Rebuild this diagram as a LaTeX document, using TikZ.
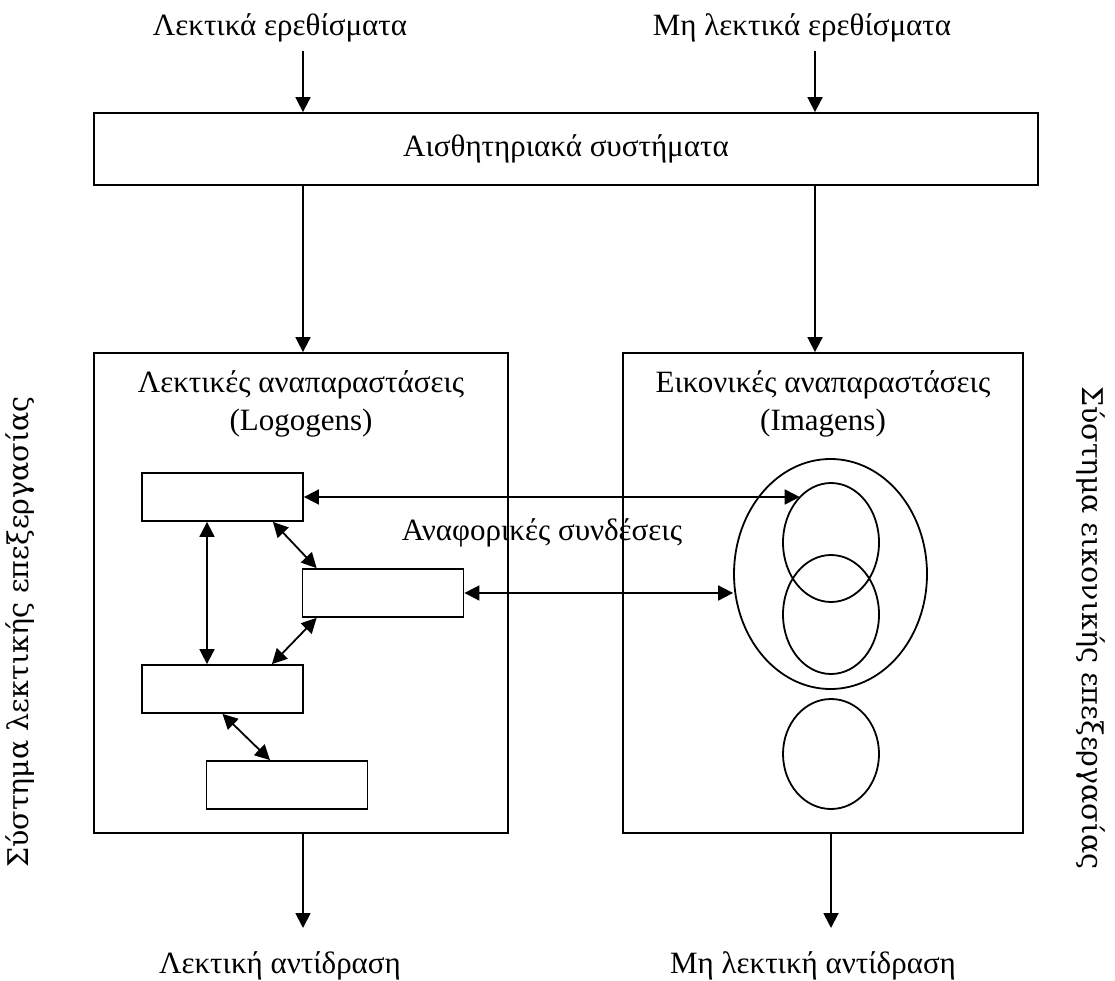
\documentclass[tikz,border=0pt]{standalone}
\usepackage{fontspec}
\setmainfont{Liberation Serif}
\newfontfamily\sidefont{DejaVu Serif}
\usetikzlibrary{arrows.meta,shapes.geometric}

\tikzset{
  lbl/.style={font=\fontsize{31}{37}\selectfont, inner sep=0pt},
  sidelbl/.style={font=\sidefont\fontsize{28.5}{34}\selectfont, inner sep=0pt},
  frame/.style={draw, line width=1.8pt, inner sep=0pt},
  slot/.style={frame, minimum width=161pt, minimum height=48pt},
  blob/.style={ellipse, draw, line width=1.8pt, inner sep=0pt},
  arr/.style={line width=1.8pt, -{Triangle[length=15pt,width=15pt]}},
  dbl/.style={line width=1.8pt, {Triangle[length=15pt,width=15pt]}-{Triangle[length=15pt,width=15pt]}},
}

\begin{document}
\begin{tikzpicture}[x=1pt,y=-1pt]
\useasboundingbox (0,0) rectangle (1115,981);

% vertical guides for the stimulus / response arrows
\coordinate (cL) at (303,0);
\coordinate (cR) at (815,0);
\coordinate (cR2) at (831,0);

% stimuli
\node[lbl, anchor=base] (sv) at (280,36) {Λεκτικά ερεθίσματα};
\node[lbl, anchor=base] (sn) at (802,36) {Μη λεκτικά ερεθίσματα};

% sensory systems
\node[frame, minimum width=944pt, minimum height=72pt] (sens) at (566,149) {};
\node[lbl] (senst) at (566,149) {Αισθητηριακά συστήματα};

% the two representation systems
\node[frame, minimum width=414pt, minimum height=480pt] (lb) at (301,593) {};
\node[frame, minimum width=400pt, minimum height=480pt] (rb) at (823,593) {};

\node[lbl, anchor=base] (lt1) at (301,392) {Λεκτικές αναπαραστάσεις};
\node[lbl, anchor=base] (lt2) at (301,430) {(Logogens)};
\node[lbl, anchor=base] (rt1) at (823,392) {Εικονικές αναπαραστάσεις};
\node[lbl, anchor=base] (rt2) at (823,430) {(Imagens)};

% logogens
\node[slot] (b1) at (222.5,497) {};
\node[slot] (b2) at (383,593) {};
\node[slot] (b3) at (222.5,689) {};
\node[slot] (b4) at (287,785) {};

% imagens
\node[blob, minimum width=193pt, minimum height=230pt] (big) at (830.5,574) {};
\node[blob, minimum width=96pt, minimum height=119pt] (i1) at (831,542.5) {};
\node[blob, minimum width=96pt, minimum height=119pt] (i2) at (831,614.5) {};
\node[blob, minimum width=96pt, minimum height=110pt] (i3) at (831,754) {};

\node[lbl, anchor=base] (ref) at (542,540) {Αναφορικές συνδέσεις};

% responses
\node[lbl, anchor=base] (rv) at (280,973) {Λεκτική αντίδραση};
\node[lbl, anchor=base] (rn) at (813,973) {Μη λεκτική αντίδραση};
\coordinate (eL) at (303,928);
\coordinate (eR) at (831,928);

% side captions
\node[sidelbl, rotate=90] (sl) at (20,632) {Σύστημα λεκτικής επεξεργασίας};
\node[sidelbl, rotate=-90] (sr) at (1091,628) {Σύστημα εικονικής επεξεργασίας};

% stimulus arrows
\draw[arr] (sv.south -| cL) ++(0,8) -- (sens.north -| cL);
\draw[arr] (sn.south -| cR) ++(0,8) -- (sens.north -| cR);
\draw[arr] (sens.south -| cL) -- (lb.north -| cL);
\draw[arr] (sens.south -| cR) -- (rb.north -| cR);

% links among logogens
\draw[dbl] ([xshift=-15.5pt]b1.south) -- ([xshift=-15.5pt]b3.north);
\draw[dbl] ([xshift=-31pt]b1.south east) -- ([xshift=15pt]b2.north west);
\draw[dbl] ([xshift=15pt]b2.south west) -- ([xshift=-32pt]b3.north east);
\draw[dbl] (b3.south) -- ([xshift=-17pt]b4.north);

% referential links
\draw[dbl] (b1.east) -- (b1.east -| i1.124);
\draw[dbl] (b2.east) -- (b2.east -| big.west);

% response arrows
\draw[arr] (lb.south -| cL) -- (eL);
\draw[arr] (rb.south -| cR2) -- (eR);
\end{tikzpicture}
\end{document}
